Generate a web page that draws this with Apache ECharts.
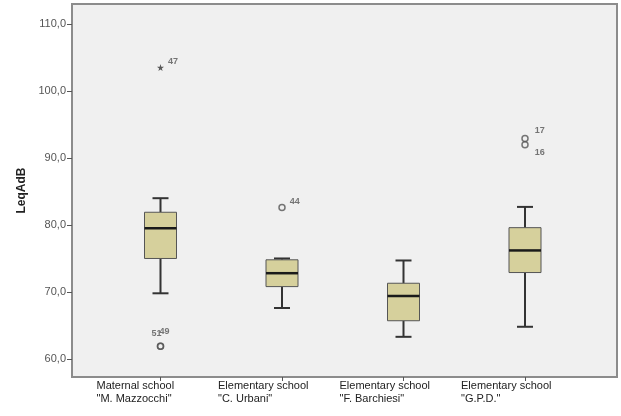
<!DOCTYPE html>
<html><head><meta charset="utf-8">
<script src="https://cdn.jsdelivr.net/npm/echarts@6/dist/echarts.min.js"></script>
<style>html,body{margin:0;padding:0;background:#fff}#c{width:621px;height:416px}</style>
</head><body><div id="c"></div>
<script>
const categories = ['Maternal school\n"M. Mazzocchi"', 'Elementary school\n"C. Urbani"', 'Elementary school\n"F. Barchiesi"', 'Elementary school\n"G.P.D."'];
const whiskerLow = [69.8, 67.6, 63.3, 64.8];
const q1 = [75.0, 70.8, 65.7, 72.9];
const median = [79.5, 72.8, 69.4, 76.2];
const q3 = [81.9, 74.8, 71.3, 79.6];
const whiskerHigh = [84.0, 75.0, 74.7, 82.7];
const outlierCat = [0, 0, 1, 3, 3];
const outlierVal = [61.9, 61.9, 82.6, 92.9, 92.0];
const outlierId = ['51', '49', '44', '17', '16'];
const extremeCat = [0];
const extremeVal = [103.5];
const extremeId = ['47'];
const yTicks = [60, 70, 80, 90, 100, 110];
const yTickLabels = ['60,0', '70,0', '80,0', '90,0', '100,0', '110,0'];

const chart = echarts.init(document.getElementById('c'));
const YMIN = 57.3, YMAX = 113;
const boxData = categories.map((c, i) => [i, whiskerLow[i], q1[i], median[i], q3[i], whiskerHigh[i]]);
const labelPlace = {'51': {position: 'top', offset: [-4, 1]}, '49': {position: 'top', offset: [4, -1]},
  '44': {position: 'right', offset: [-1, -6]}, '17': {position: 'right', offset: [1, -8]}, '16': {position: 'right', offset: [1, 8]}, '47': {position: 'right', offset: [-1, -6]}};
const outData = outlierCat.map((c, i) => ({value: [c, outlierVal[i], outlierId[i]], label: labelPlace[outlierId[i]]}));
const extData = extremeCat.map((c, i) => ({value: [c, extremeVal[i], extremeId[i]], label: labelPlace[extremeId[i]]}));
const star = 'path://M50,0 L61,35 L98,35 L68,57 L79,91 L50,70 L21,91 L32,57 L2,35 L39,35 Z';
const lbl = {show: true, formatter: p => p.data.value[2], fontSize: 9, fontWeight: 'bold', color: '#555', fontFamily: 'Liberation Sans'};

chart.setOption({
  animation: false,
  backgroundColor: '#fff',
  grid: [
    {left: 72, top: 4, width: 545, height: 373, show: true, backgroundColor: '#f0f0f0', borderColor: '#8c8c8c', borderWidth: 2},
    {left: 99.75, top: 4, width: 486, height: 373, show: false}
  ],
  xAxis: [
    {type: 'category', gridIndex: 0, data: [], show: false},
    {type: 'category', gridIndex: 1, data: categories, boundaryGap: true,
     axisLine: {show: false},
     axisTick: {show: true, alignWithLabel: true, length: 4, lineStyle: {color: '#555', width: 1}},
     axisLabel: {align: 'left', padding: [0, 0, 0, -64], margin: 2, fontSize: 11, lineHeight: 13, color: '#222', fontFamily: 'Liberation Sans', interval: 0}}
  ],
  yAxis: [
    {type: 'value', gridIndex: 0, min: YMIN, max: YMAX, name: 'LeqAdB', nameLocation: 'middle', nameRotate: 90, nameGap: 44,
     nameTextStyle: {fontSize: 12, fontWeight: 'bold', color: '#222', fontFamily: 'Liberation Sans'},
     axisLine: {show: false}, splitLine: {show: false},
     axisTick: {show: true, length: 5, lineStyle: {color: '#555'}, customValues: yTicks},
     axisLabel: {customValues: yTicks, margin: 6, fontSize: 11, color: '#555', fontFamily: 'Liberation Sans',
       formatter: v => yTickLabels[yTicks.indexOf(Math.round(v))] || ''}},
    {type: 'value', gridIndex: 1, min: YMIN, max: YMAX, show: false, splitLine: {show: false}}
  ],
  series: [
    {type: 'custom', xAxisIndex: 1, yAxisIndex: 1, data: boxData, encode: {x: 0, y: [1, 2, 3, 4, 5]},
     renderItem: function (params, api) {
       const x = api.value(0);
       const pLo = api.coord([x, api.value(1)]), pQ1 = api.coord([x, api.value(2)]), pMed = api.coord([x, api.value(3)]);
       const pQ3 = api.coord([x, api.value(4)]), pHi = api.coord([x, api.value(5)]);
       const cx = pLo[0], hw = 16, cw = 8;
       const wl = {stroke: '#333', lineWidth: 2};
       return {type: 'group', children: [
         {type: 'line', shape: {x1: cx, y1: pQ1[1], x2: cx, y2: pLo[1]}, style: wl},
         {type: 'line', shape: {x1: cx, y1: pQ3[1], x2: cx, y2: pHi[1]}, style: wl},
         {type: 'line', shape: {x1: cx - cw, y1: pLo[1], x2: cx + cw, y2: pLo[1]}, style: wl},
         {type: 'line', shape: {x1: cx - cw, y1: pHi[1], x2: cx + cw, y2: pHi[1]}, style: wl},
         {type: 'rect', shape: {x: cx - hw, y: pQ3[1], width: 2 * hw, height: pQ1[1] - pQ3[1]}, style: {fill: '#d6d09c', stroke: '#555', lineWidth: 1}},
         {type: 'line', shape: {x1: cx - hw, y1: pMed[1], x2: cx + hw, y2: pMed[1]}, style: {stroke: '#1a1a1a', lineWidth: 2.5}}
       ]};
     }},
    {type: 'scatter', xAxisIndex: 1, yAxisIndex: 1, data: outData, symbol: 'circle', symbolSize: 6,
     itemStyle: {color: 'rgba(0,0,0,0)', borderColor: '#555', borderWidth: 1.5}, label: lbl},
    {type: 'scatter', xAxisIndex: 1, yAxisIndex: 1, data: extData, symbol: star, symbolSize: 7,
     itemStyle: {color: '#333'}, label: lbl}
  ]
});
</script></body></html>
